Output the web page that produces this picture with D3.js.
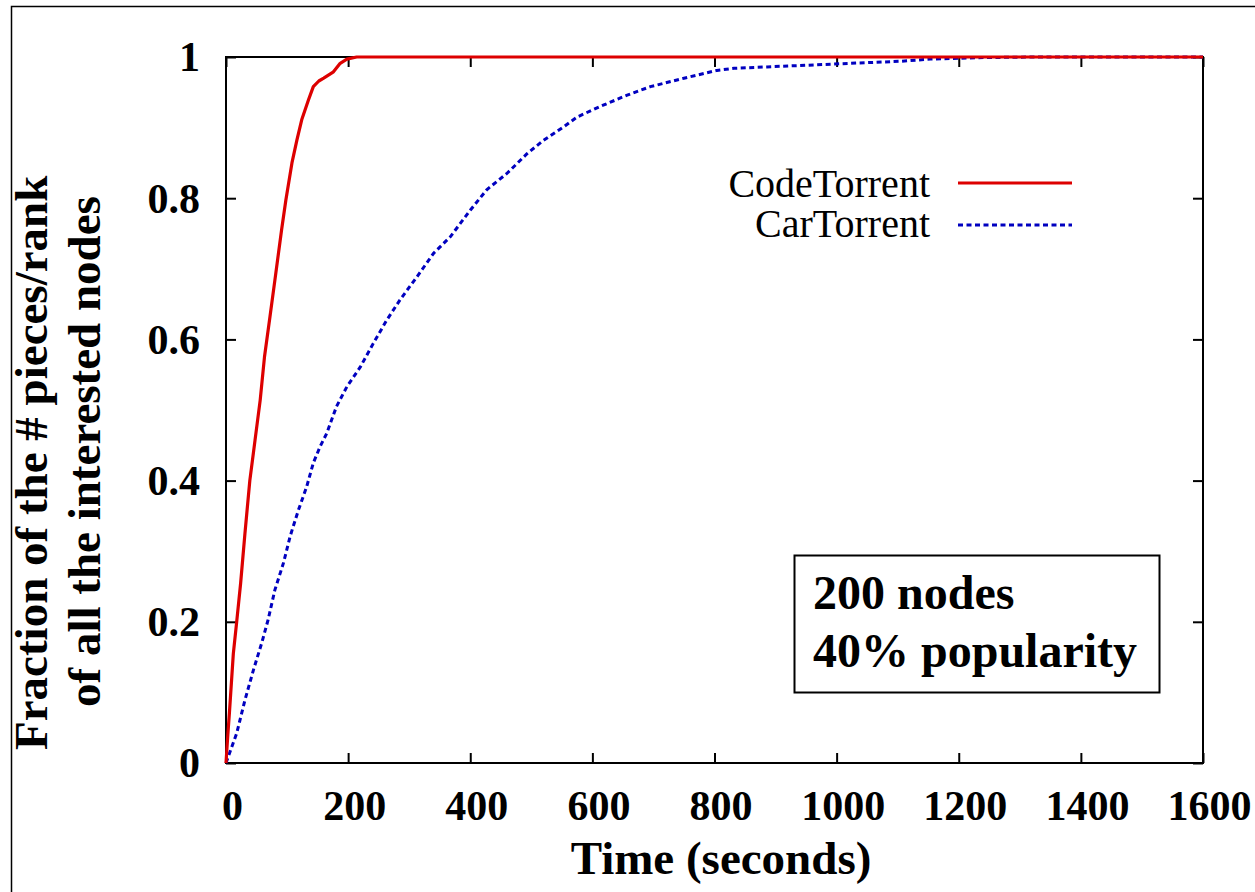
<!DOCTYPE html>
<html>
<head>
<meta charset="utf-8">
<script src="https://cdn.jsdelivr.net/npm/d3@7"></script>
<style>
  html, body { margin: 0; padding: 0; background: #fff; }
  svg { display: block; }
  text { font-family: "Liberation Serif", "Times New Roman", serif; fill: #000; }
</style>
</head>
<body>
<svg id="chart" width="1255" height="892"></svg>
<script>
// ---- data ----
const xTicks = [0, 200, 400, 600, 800, 1000, 1200, 1400, 1600];
const yTicks = [0, 0.2, 0.4, 0.6, 0.8, 1];
const seriesNames = ["CodeTorrent", "CarTorrent"];
const codeTorrentTime = [0, 3, 5.5, 12, 17.5, 24, 31, 39, 47.5, 56, 63, 72, 81, 91, 98, 108, 116, 124, 135, 143, 152, 160, 176, 187, 198, 214, 1600];
const codeTorrentFrac = [0, 0.04, 0.07, 0.155, 0.2, 0.255, 0.325, 0.4, 0.457, 0.514, 0.575, 0.632, 0.69, 0.755, 0.797, 0.85, 0.882, 0.911, 0.939, 0.958, 0.966, 0.970, 0.979, 0.991, 0.997, 1.0, 1.0];
const carTorrentTime = [0, 17.5, 31, 45, 58.5, 69, 80, 94, 105, 118.5, 132, 143, 154, 165, 181, 198, 220, 241, 263, 285, 313, 340, 367, 400, 427, 460, 493, 520, 553, 575, 613, 657, 695, 750, 804, 832, 886, 996, 1050, 1105, 1154, 1230, 1318, 1600];
const carTorrentFrac = [0, 0.042, 0.089, 0.132, 0.170, 0.203, 0.245, 0.283, 0.321, 0.358, 0.391, 0.425, 0.448, 0.467, 0.505, 0.533, 0.561, 0.594, 0.627, 0.656, 0.689, 0.722, 0.745, 0.783, 0.812, 0.835, 0.863, 0.882, 0.901, 0.915, 0.930, 0.946, 0.958, 0.970, 0.981, 0.984, 0.986, 0.990, 0.992, 0.994, 0.997, 0.999, 1.0, 1.0];
const annotationLines = ["200 nodes", "40% popularity"];
const xTitle = "Time (seconds)";
const yTitleLines = ["Fraction of the # pieces/rank", "of all the interested nodes"];

// ---- layout ----
const svg = d3.select("#chart");
const x = d3.scaleLinear().domain([0, 1600]).range([226, 1203]);
const y = d3.scaleLinear().domain([0, 1]).range([763, 57]);
const FONT = '"Liberation Serif", "Times New Roman", serif';

// outer border (only left/top visible in frame)
svg.append("rect").attr("x", 11.5).attr("y", 6.5).attr("width", 1400).attr("height", 1000)
  .attr("fill", "none").attr("stroke", "#000").attr("stroke-width", 1.5);

// axes with inward ticks on all sides
function styleAxis(g) {
  g.select(".domain").remove();
  g.selectAll(".tick line").attr("stroke", "#000").attr("stroke-width", 2);
}
const xFmt = d => String(d);
const yFmt = d => d === 0 ? "0" : d === 1 ? "1" : d3.format(".1f")(d);

const gB = svg.append("g").attr("transform", "translate(0,763)")
  .call(d3.axisBottom(x).tickValues(xTicks).tickSize(-10).tickFormat(xFmt));
styleAxis(gB);
gB.selectAll(".tick text").attr("y", 57).attr("dy", 0).attr("x", 6)
  .attr("font-size", 42).attr("font-weight", "bold").attr("font-family", FONT).attr("fill", "#000");

const gT = svg.append("g").attr("transform", "translate(0,57)")
  .call(d3.axisTop(x).tickValues(xTicks).tickSize(-10).tickFormat(""));
styleAxis(gT);

const gL = svg.append("g").attr("transform", "translate(226,0)")
  .call(d3.axisLeft(y).tickValues(yTicks).tickSize(-10).tickFormat(yFmt));
styleAxis(gL);
gL.selectAll(".tick text").attr("x", -26).attr("dy", "0.33em")
  .attr("font-size", 42).attr("font-weight", "bold").attr("font-family", FONT).attr("fill", "#000");

const gR = svg.append("g").attr("transform", "translate(1203,0)")
  .call(d3.axisRight(y).tickValues(yTicks).tickSize(-10).tickFormat(""));
styleAxis(gR);

// frame
svg.append("rect").attr("x", x(0)).attr("y", y(1)).attr("width", x(1600) - x(0)).attr("height", y(0) - y(1))
  .attr("fill", "none").attr("stroke", "#000").attr("stroke-width", 2);

// series
const line = d3.line().x(d => x(d[0])).y(d => y(d[1]));
const codeData = codeTorrentTime.map((t, i) => [t, codeTorrentFrac[i]]);
const carData = carTorrentTime.map((t, i) => [t, carTorrentFrac[i]]);
const RED = "#dd0000", BLUE = "#0000c0";

svg.append("path").datum(carData).attr("d", line).attr("fill", "none")
  .attr("stroke", BLUE).attr("stroke-width", 3).attr("stroke-dasharray", "5,3.5");
svg.append("path").datum(codeData).attr("d", line).attr("fill", "none")
  .attr("stroke", RED).attr("stroke-width", 3.2).attr("stroke-linejoin", "round");

// legend
const legend = svg.append("g");
const legendItems = [
  { name: seriesNames[0], color: RED, dash: null, ty: 197, ly: 183 },
  { name: seriesNames[1], color: BLUE, dash: "5,3.5", ty: 237, ly: 225 }
];
legendItems.forEach(it => {
  legend.append("text").attr("x", 930).attr("y", it.ty).attr("text-anchor", "end")
    .attr("font-size", 40).attr("font-family", FONT).text(it.name);
  legend.append("line").attr("x1", 958).attr("x2", 1072).attr("y1", it.ly).attr("y2", it.ly)
    .attr("stroke", it.color).attr("stroke-width", 3).attr("stroke-dasharray", it.dash);
});

// annotation box
svg.append("rect").attr("x", 794.5).attr("y", 555.5).attr("width", 365).attr("height", 137)
  .attr("fill", "#fff").attr("stroke", "#000").attr("stroke-width", 2);
annotationLines.forEach((s, i) => {
  svg.append("text").attr("x", 813).attr("y", 609 + i * 57.5)
    .attr("font-size", 48).attr("font-weight", "bold").attr("font-family", FONT).text(s);
});

// axis titles
svg.append("text").attr("x", 721).attr("y", 874).attr("text-anchor", "middle")
  .attr("font-size", 47).attr("font-weight", "bold").attr("font-family", FONT).text(xTitle);
svg.append("text").attr("transform", "translate(47,750) rotate(-90)")
  .attr("font-size", 47).attr("font-weight", "bold").attr("font-family", FONT).text(yTitleLines[0]);
svg.append("text").attr("transform", "translate(100,707) rotate(-90)")
  .attr("font-size", 47).attr("font-weight", "bold").attr("font-family", FONT).text(yTitleLines[1]);
</script>
</body>
</html>
